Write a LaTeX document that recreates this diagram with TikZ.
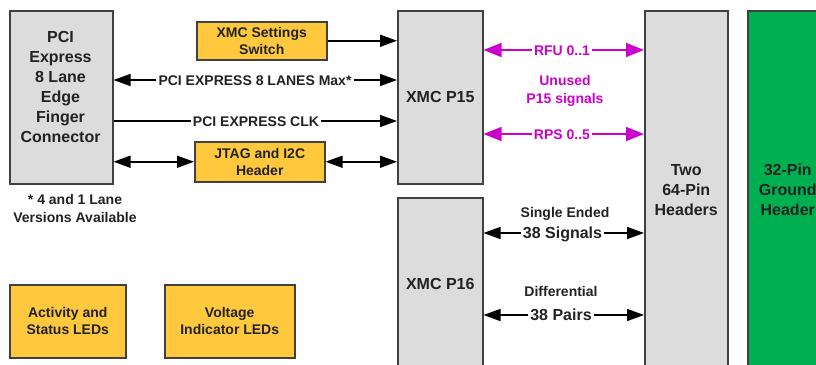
\documentclass[tikz,border=0pt]{standalone}
\usepackage{fontspec}
\setmainfont{Liberation Sans}
\usetikzlibrary{arrows.meta}
\definecolor{boxgray}{HTML}{DCDCDC}
\definecolor{boxyellow}{HTML}{FFC83D}
\definecolor{boxgreen}{HTML}{00B050}
\definecolor{edgegray}{HTML}{404040}
\definecolor{sigmag}{HTML}{CC00CC}
\definecolor{txtcol}{HTML}{222222}
\begin{document}
\begin{tikzpicture}[x=1pt,y=-1pt,
  blk/.style={draw=edgegray, line width=1.5pt, rectangle, inner sep=0pt, anchor=north west},
  graybox/.style={blk, fill=boxgray},
  yelbox/.style={blk, fill=boxyellow},
  grnbox/.style={blk, fill=boxgreen},
  bigtxt/.style={font=\fontsize{16}{20}\selectfont\bfseries, text=txtcol, align=center, inner sep=0pt},
  smalltxt/.style={font=\fontsize{14}{17}\selectfont\bfseries, text=txtcol, align=center, inner sep=0pt},
  lbl/.style={font=\fontsize{14}{17}\selectfont\bfseries, text=txtcol, inner sep=2pt, text height=10pt, text depth=0pt},
  lblbig/.style={font=\fontsize{16}{20}\selectfont\bfseries, text=txtcol, inner sep=2pt, text height=11.5pt, text depth=0pt},
  mlbl/.style={lbl, text=sigmag},
  arr/.style={line width=1.5pt, draw=black, -{Triangle[length=17pt,width=12pt]}},
  darr/.style={line width=1.5pt, draw=black, {Triangle[length=17pt,width=12pt]}-{Triangle[length=17pt,width=12pt]}},
  plain/.style={line width=1.5pt, draw=black},
  marr/.style={line width=1.5pt, draw=sigmag, -{Triangle[length=18pt,width=14pt]}}
]
\useasboundingbox (0,0) rectangle (816,364);
\clip (0,0) rectangle (816,364);

% boxes
\node[graybox, minimum width=103pt, minimum height=173pt] (pci) at (9,10) {};
\node[bigtxt] (pcitxt) at (60.5,87) {PCI\\Express\\8 Lane\\Edge\\Finger\\Connector};
\node[smalltxt, font=\fontsize{14}{18}\selectfont\bfseries] (note) at (75,208) {* 4 and 1 Lane\\Versions Available};

\node[yelbox, minimum width=130pt, minimum height=38pt] (xmcset) at (196,21) {};
\node[smalltxt] (xmcsettxt) at (xmcset.center) {XMC Settings\\Switch};
\node[yelbox, minimum width=130pt, minimum height=40pt] (jtag) at (194,141) {};
\node[smalltxt] (jtagtxt) at (jtag.center) {JTAG and I2C\\Header};

\node[yelbox, minimum width=116pt, minimum height=73pt] (act) at (9,284) {};
\node[smalltxt] (acttxt) at (act.center) {Activity and\\Status LEDs};
\node[yelbox, minimum width=130pt, minimum height=73pt] (volt) at (164,284) {};
\node[smalltxt] (volttxt) at (volt.center) {Voltage\\Indicator LEDs};

\node[graybox, minimum width=85pt, minimum height=173pt] (p15) at (397,10) {};
\node[bigtxt] (p15txt) at (p15.center) {XMC P15};
\node[graybox, minimum width=85pt, minimum height=172pt] (p16) at (397,197) {};
\node[bigtxt] (p16txt) at (p16.center) {XMC P16};

\node[graybox, minimum width=83pt, minimum height=359pt] (hdr) at (644,10) {};
\node[bigtxt] (hdrtxt) at (hdr.center) {Two\\64-Pin\\Headers};
\node[grnbox, minimum width=80pt, minimum height=359pt] (gnd) at (747,10) {};
\node[bigtxt] (gndtxt) at (gnd.center) {32-Pin\\Ground\\Header};

% left side connectors
\draw[arr] (xmcset.east) -- (p15.west |- xmcset.east);

\node[lbl] (lanes) at (255,80) {PCI EXPRESS 8 LANES Max*};
\draw[arr] (lanes.west) -- (pci.east |- lanes.west);
\draw[arr] (lanes.east) -- (p15.west |- lanes.east);

\node[lbl] (clk) at (256,121) {PCI EXPRESS CLK};
\draw[plain] (pci.east |- clk.west) -- (clk.west);
\draw[arr] (clk.east) -- (p15.west |- clk.east);

\draw[darr] (pci.east |- jtag.west) -- (jtag.west);
\draw[darr] (jtag.east) -- (p15.west |- jtag.east);

% P15 unused signals
\node[mlbl] (rfu) at (562,50) {RFU 0..1};
\draw[marr] (rfu.west) -- (p15.east |- rfu.west);
\draw[marr] (rfu.east) -- (hdr.west |- rfu.east);
\node[smalltxt, text=sigmag, font=\fontsize{14}{18}\selectfont\bfseries] (unused) at (565,91) {Unused\\P15 signals};
\node[mlbl] (rps) at (562,134) {RPS 0..5};
\draw[marr] (rps.west) -- (p15.east |- rps.west);
\draw[marr] (rps.east) -- (hdr.west |- rps.east);

% P16 signals
\node[lbl] (single) at (565,212) {Single Ended};
\node[lblbig] (sig38) at (562.5,233) {38 Signals};
\draw[arr] (sig38.west) -- (p16.east |- sig38.west);
\draw[arr] (sig38.east) -- (hdr.west |- sig38.east);
\node[lbl] (diff) at (561,291) {Differential};
\node[lblbig] (pairs38) at (561,315) {38 Pairs};
\draw[arr] (pairs38.west) -- (p16.east |- pairs38.west);
\draw[arr] (pairs38.east) -- (hdr.west |- pairs38.east);
\end{tikzpicture}
\end{document}
